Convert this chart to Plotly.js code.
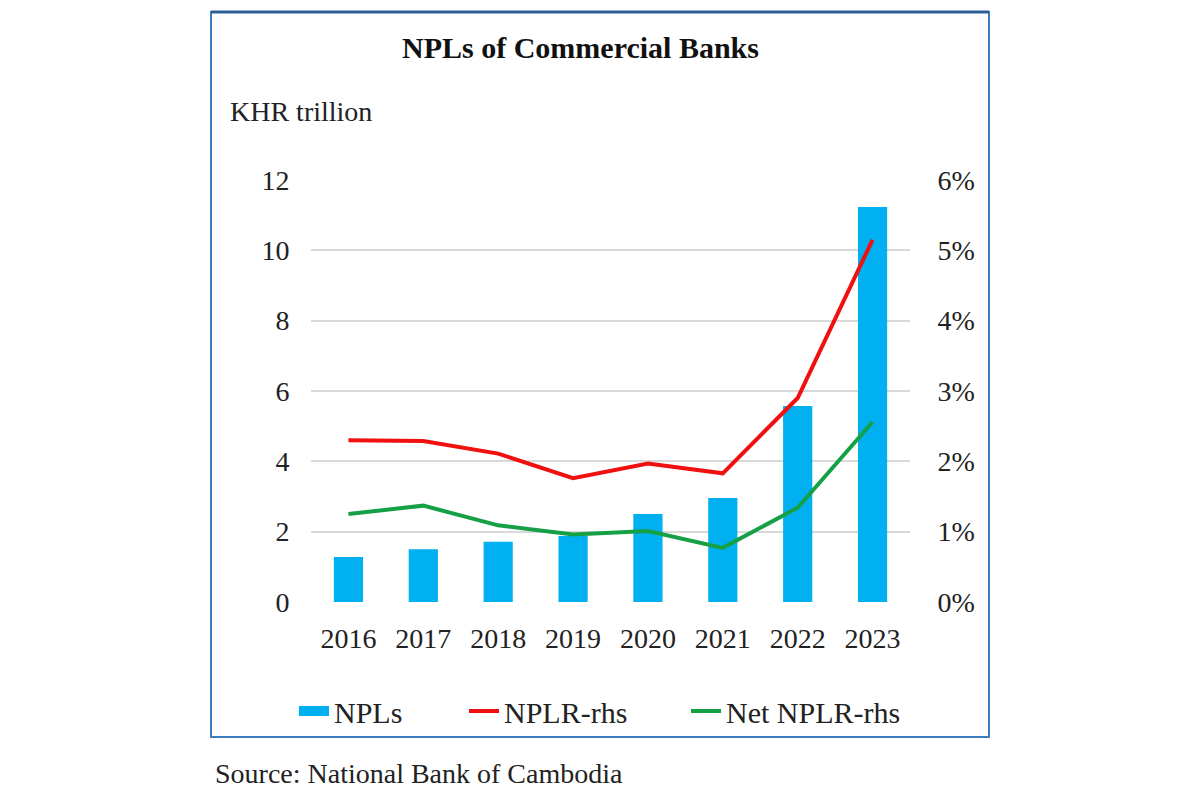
<!DOCTYPE html>
<html>
<head>
<meta charset="utf-8">
<script src="https://cdn.plot.ly/plotly-3.0.1.min.js"></script>
<style>html,body{margin:0;padding:0;background:#fff;}#chart{width:1200px;height:800px;}</style>
</head>
<body>
<div id="chart"></div>
<script>
const years = ['2016','2017','2018','2019','2020','2021','2022','2023'];
const npls = [1.28, 1.50, 1.71, 1.88, 2.50, 2.96, 5.57, 11.23];
const nplr = [2.30, 2.29, 2.11, 1.76, 1.97, 1.83, 2.90, 5.15];
const netNplr = [1.25, 1.37, 1.09, 0.96, 1.01, 0.77, 1.34, 2.56];
const leftTicks = [0, 2, 4, 6, 8, 10, 12];
const rightTicks = [0, 1, 2, 3, 4, 5, 6];
const rightTickText = rightTicks.map(v => v + '%');

const L = 311, R = 910, T = 180, B = 602;
const px = x => (x - L) / (R - L);
const py = y => (B - y) / (B - T);
const FONT = 'Liberation Serif, Times New Roman, serif';
const BLUE = '#00b0f0';

const traces = [
  {type: 'bar', x: years, y: npls, name: 'NPLs', marker: {color: BLUE}, yaxis: 'y', showlegend: false, legendgroup: 'npl'},
  // legend proxy giving the wide rectangular swatch of the reference
  {type: 'scatter', mode: 'lines', x: [null], y: [null], name: 'NPLs', line: {color: BLUE, width: 15}, yaxis: 'y', legendgroup: 'npl', legend: 'legend'},
  {type: 'scatter', mode: 'lines', x: years, y: nplr, name: 'NPLR-rhs', line: {color: '#f01010', width: 4}, yaxis: 'y2', legend: 'legend2'},
  {type: 'scatter', mode: 'lines', x: years, y: netNplr, name: 'Net NPLR-rhs', line: {color: '#16a046', width: 4}, yaxis: 'y2', legend: 'legend3'}
];

const legendBase = {orientation: 'h', yanchor: 'middle', xanchor: 'left', y: py(711), bgcolor: 'rgba(0,0,0,0)',
                    font: {family: FONT, size: 30, color: '#222'}, itemwidth: 30};

const layout = {
  width: 1200, height: 800,
  margin: {l: L, r: 1200 - R, t: T, b: 800 - B},
  paper_bgcolor: '#ffffff', plot_bgcolor: '#ffffff',
  font: {family: FONT, size: 28, color: '#222'},
  bargap: 0.61,
  showlegend: true,
  legend: Object.assign({}, legendBase, {x: px(294)}),
  legend2: Object.assign({}, legendBase, {x: px(464)}),
  legend3: Object.assign({}, legendBase, {x: px(686)}),
  xaxis: {type: 'category', tickvals: years, ticktext: years, showgrid: false, zeroline: false, showline: false,
          ticks: 'outside', ticklen: 11, tickcolor: 'rgba(0,0,0,0)', tickfont: {family: FONT, size: 28, color: '#222'}},
  yaxis: {range: [0, 12], tickvals: leftTicks, showgrid: true, gridcolor: '#d9d9d9', gridwidth: 2,
          zeroline: false, showline: false, ticks: 'outside', ticklen: 15, tickcolor: 'rgba(0,0,0,0)',
          tickfont: {family: FONT, size: 28, color: '#222'}},
  yaxis2: {range: [0, 6], tickvals: rightTicks, ticktext: rightTickText, overlaying: 'y', side: 'right',
           showgrid: false, zeroline: false, showline: false, ticks: 'outside', ticklen: 21, tickcolor: 'rgba(0,0,0,0)',
           tickfont: {family: FONT, size: 28, color: '#222'}},
  shapes: [
    {type: 'rect', xref: 'paper', yref: 'paper', x0: px(211), x1: px(989), y0: py(737), y1: py(12),
     line: {color: '#3d7cc0', width: 2}, layer: 'below'},
    {type: 'line', xref: 'paper', yref: 'paper', x0: px(211), x1: px(989), y0: py(12), y1: py(12),
     line: {color: '#2a5f9a', width: 3}}
  ],
  annotations: [
    {text: '<b>NPLs of Commercial Banks</b>', xref: 'paper', yref: 'paper', x: px(580), y: py(47),
     xanchor: 'center', yanchor: 'middle', showarrow: false, font: {family: FONT, size: 30, color: '#111'}},
    {text: 'KHR trillion', xref: 'paper', yref: 'paper', x: px(228), y: py(112),
     xanchor: 'left', yanchor: 'middle', showarrow: false, font: {family: FONT, size: 28, color: '#222'}},
    {text: 'Source: National Bank of Cambodia', xref: 'paper', yref: 'paper', x: px(213), y: py(773),
     xanchor: 'left', yanchor: 'middle', showarrow: false, font: {family: FONT, size: 28, color: '#222'}}
  ]
};

Plotly.newPlot('chart', traces, layout, {displayModeBar: false, staticPlot: true});
</script>
</body>
</html>
